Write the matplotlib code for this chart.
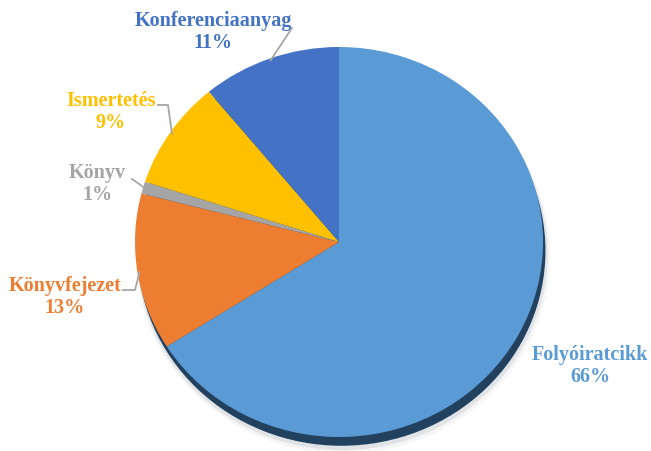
import numpy as np
import matplotlib
matplotlib.use("Agg")
import matplotlib.pyplot as plt
from matplotlib.lines import Line2D
from matplotlib.patches import Ellipse

# data
categories = ["Folyóiratcikk", "Könyvfejezet", "Könyv", "Ismertetés", "Konferenciaanyag"]
shares = [66, 13, 1, 9, 11]
colors = ["#5B9BD5", "#ED7D31", "#A5A5A5", "#FFC000", "#4472C4"]

W, H = 651, 451
fig = plt.figure(figsize=(W / 100, H / 100), dpi=100)
fig.patch.set_facecolor("white")

# pie area in pixels: x 135..543, y 47..437
ax = fig.add_axes([135 / W, (H - 437) / H, 408 / W, 390 / H])

# shadow under the pie (bottom-right): soft glow + dark rim
for dx, dy, s, c, a in [(0.02, -0.07, 2.03, "#8F8F8F", 0.08),
                        (0.016, -0.06, 2.015, "#6F7F90", 0.15),
                        (0.012, -0.045, 2.0, "#22415F", 1.0)]:
    ax.add_patch(Ellipse((dx, dy), s, s, facecolor=c, edgecolor="none",
                         alpha=a, zorder=0, clip_on=False))

wedges, _ = ax.pie(shares, colors=colors, startangle=90, counterclock=False,
                   wedgeprops=dict(linewidth=0))
for w in wedges:
    w.set_zorder(2)
    w.set_clip_on(False)
ax.set_aspect("auto")
ax.set_xlim(-1, 1)
ax.set_ylim(-1, 1)
ax.axis("off")


def px(x, y):
    return x / W, 1 - y / H


def edge(idx, r=1.0):
    w = wedges[idx]
    th = np.deg2rad((w.theta1 + w.theta2) / 2)
    p = ax.transData.transform((r * np.cos(th), r * np.sin(th)))
    return fig.transFigure.inverted().transform(p)


font = dict(family=["Liberation Serif", "DejaVu Serif"], weight="bold", fontsize=14.5)

# label block centres (pixels) and leader line starts
label_pos = {
    "Folyóiratcikk": (590, 366),
    "Könyvfejezet": (65, 297),
    "Könyv": (97, 184),
    "Ismertetés": (111, 112),
    "Konferenciaanyag": (213, 32),
}
leaders = {
    "Könyvfejezet": [(123, 290), (135, 290)],
    "Könyv": [(132, 179)],
    "Ismertetés": [(158, 105), (168, 105)],
    "Konferenciaanyag": [(292, 28)],
}

for i, (cat, val, col) in enumerate(zip(categories, shares, colors)):
    x, y = label_pos[cat]
    fx, fy = px(x, y)
    fig.text(fx, fy, f"{cat}\n{val}%", ha="center", va="center",
             color=col, linespacing=1.15, **font)
    if cat in leaders:
        pts = [px(*p) for p in leaders[cat]] + [tuple(edge(i, 0.99))]
        xs, ys = zip(*pts)
        fig.add_artist(Line2D(xs, ys, color="#A6A6A6", lw=1.3,
                              transform=fig.transFigure, zorder=5))

fig.savefig("out.png", dpi=100, facecolor="white")
